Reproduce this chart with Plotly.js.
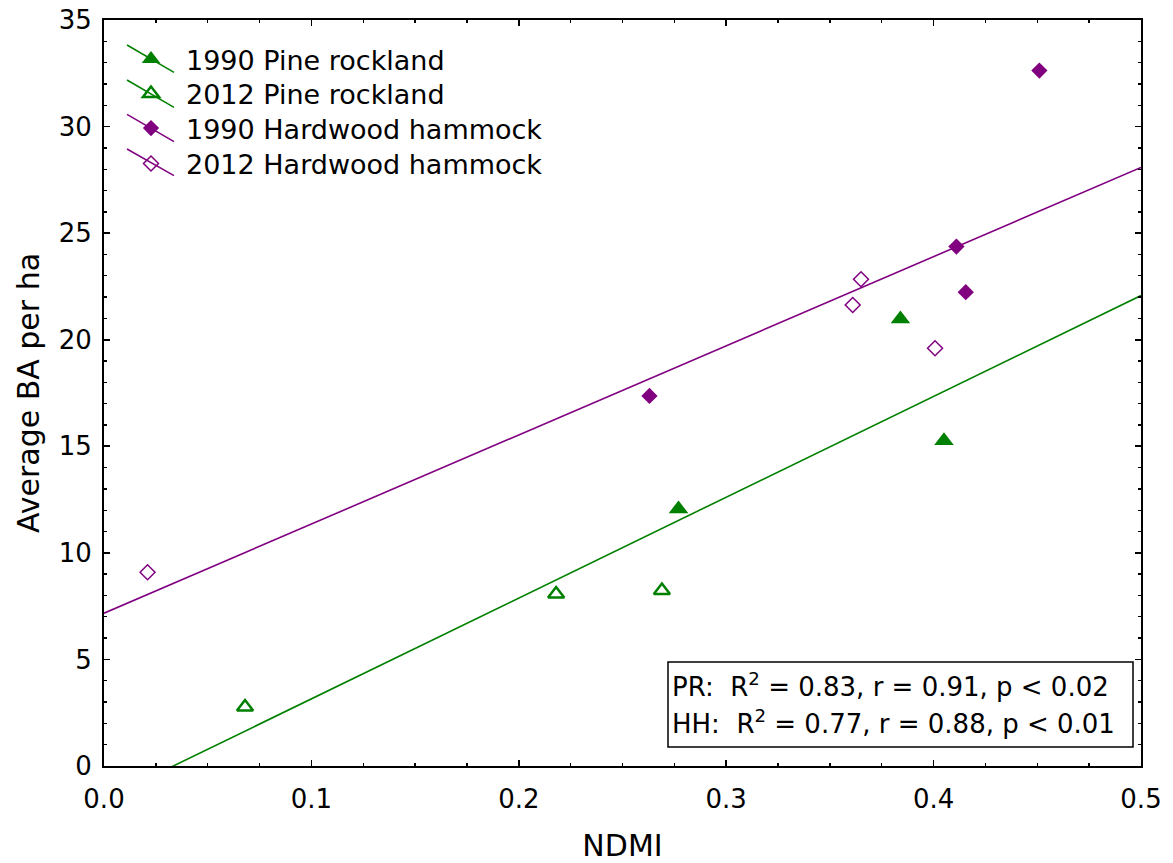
<!DOCTYPE html>
<html>
<head>
<meta charset="utf-8">
<script src="https://cdn.plot.ly/plotly-3.0.1.min.js"></script>
<style>html,body{margin:0;padding:0;background:#fff;}#chart{width:1173px;height:863px;}</style>
</head>
<body>
<div id="chart"></div>
<script>
// ---- data ----
const pr1990X = [0.277, 0.384, 0.405];
const pr1990Y = [12.06, 20.97, 15.26];
const pr2012X = [0.068, 0.218, 0.269];
const pr2012Y = [2.77, 8.07, 8.23];
const hh1990X = [0.263, 0.411, 0.4155, 0.451];
const hh1990Y = [17.36, 24.37, 22.23, 32.63];
const hh2012X = [0.021, 0.361, 0.365, 0.4007];
const hh2012Y = [9.09, 21.63, 22.84, 19.6];
// fitted regression lines (end points)
const prFitX = [0, 0.5];
const prFitY = [-1.58, 22.07];
const hhFitX = [0, 0.5];
const hhFitY = [7.17, 28.08];
const seriesNames = ['1990 Pine rockland', '2012 Pine rockland', '1990 Hardwood hammock', '2012 Hardwood hammock'];
const statsLines = ['PR:  R<sup>2</sup> = 0.83, r = 0.91, p < 0.02', 'HH:  R<sup>2</sup> = 0.77, r = 0.88, p < 0.01'];

const GREEN = '#008000';
const PURPLE = '#800080';
const FONT = 'DejaVu Sans, Liberation Sans, Arial, sans-serif';

const traces = [
  {x: prFitX, y: prFitY, mode: 'lines', line: {color: GREEN, width: 1.6}, showlegend: false, hoverinfo: 'skip'},
  {x: hhFitX, y: hhFitY, mode: 'lines', line: {color: PURPLE, width: 1.6}, showlegend: false, hoverinfo: 'skip'},
  {x: pr1990X, y: pr1990Y, name: seriesNames[0], mode: 'markers', cliponaxis: false, legend: 'legend',
   marker: {symbol: 'triangle-up', size: 17, color: GREEN, line: {width: 0}}},
  {x: pr2012X, y: pr2012Y, name: seriesNames[1], mode: 'markers', cliponaxis: false, legend: 'legend2',
   marker: {symbol: 'triangle-up-open', size: 14, color: GREEN, line: {width: 2.5, color: GREEN}}},
  {x: hh1990X, y: hh1990Y, name: seriesNames[2], mode: 'markers', cliponaxis: false, legend: 'legend3',
   marker: {symbol: 'diamond', size: 12.5, color: PURPLE, line: {width: 0}}},
  {x: hh2012X, y: hh2012Y, name: seriesNames[3], mode: 'markers', cliponaxis: false, legend: 'legend4',
   marker: {symbol: 'diamond-open', size: 11.5, color: PURPLE, line: {width: 1.5, color: PURPLE}}}
];

// plot area in pixels: left 104, right 1141, top 20, bottom 766
const L = 104, R = 1141, T = 20, B = 766;
const px = v => (v - L) / (R - L);
const py = v => (B - v) / (B - T);

const legendLines = [
  [[127, 45], [174, 72.3], GREEN],
  [[127, 80], [174, 107.3], GREEN],
  [[127, 114.3], [174, 141.7], PURPLE],
  [[127, 149], [174, 175.7], PURPLE]
];
const shapes = legendLines.map(s => ({
  type: 'line', xref: 'paper', yref: 'paper', layer: 'above',
  x0: px(s[0][0]), y0: py(s[0][1]), x1: px(s[1][0]), y1: py(s[1][1]),
  line: {color: s[2], width: 1.5}
}));
shapes.push({type: 'rect', xref: 'paper', yref: 'paper', layer: 'above',
  x0: px(668), x1: px(1133), y0: py(747), y1: py(662),
  line: {color: '#000', width: 1.5}, fillcolor: 'rgba(255,255,255,1)'});

const annotations = [
  {xref: 'paper', yref: 'paper', x: px(670), y: py(685), xanchor: 'left', yanchor: 'middle',
   text: statsLines[0], showarrow: false, font: {family: FONT, size: 26, color: '#000'}},
  {xref: 'paper', yref: 'paper', x: px(670), y: py(722), xanchor: 'left', yanchor: 'middle',
   text: statsLines[1], showarrow: false, font: {family: FONT, size: 26, color: '#000'}}
];

const axisCommon = {
  showgrid: false, zeroline: false, showline: true, linecolor: '#000', linewidth: 2,
  mirror: 'ticks', ticks: 'inside', ticklen: 6, tickwidth: 1.6, tickcolor: '#000',
  tickfont: {family: FONT, size: 26, color: '#000'}
};

const legendBase = y => ({
  x: px(116), y: py(y), xanchor: 'left', yanchor: 'top',
  bgcolor: 'rgba(0,0,0,0)', borderwidth: 0, itemwidth: 60,
  font: {family: FONT, size: 27, color: '#000'}
});

const layout = {
  width: 1173, height: 863,
  margin: {l: L, r: 1173 - R, t: T, b: 863 - B},
  paper_bgcolor: '#fff', plot_bgcolor: '#fff',
  font: {family: FONT, color: '#000'},
  xaxis: Object.assign({}, axisCommon, {
    range: [0, 0.5], dtick: 0.1, tick0: 0, tickformat: '.1f', ticklabelstandoff: 9,
    minor: {dtick: 0.025, ticks: 'inside', ticklen: 3, tickwidth: 1.4, tickcolor: '#000'},
    title: {text: 'NDMI', font: {family: FONT, size: 30, color: '#000'}, standoff: 22}
  }),
  yaxis: Object.assign({}, axisCommon, {
    range: [0, 35], dtick: 5, tick0: 0, ticklabelstandoff: 5,
    minor: {dtick: 1, ticks: 'inside', ticklen: 3, tickwidth: 1.4, tickcolor: '#000'},
    title: {text: 'Average BA per ha', font: {family: FONT, size: 30, color: '#000'}, standoff: 10}
  }),
  showlegend: true,
  legend: legendBase(35),
  legend2: legendBase(69.5),
  legend3: legendBase(104),
  legend4: legendBase(139.5),
  shapes: shapes,
  annotations: annotations
};

Plotly.newPlot('chart', traces, layout, {displayModeBar: false, staticPlot: true});
</script>
</body>
</html>
